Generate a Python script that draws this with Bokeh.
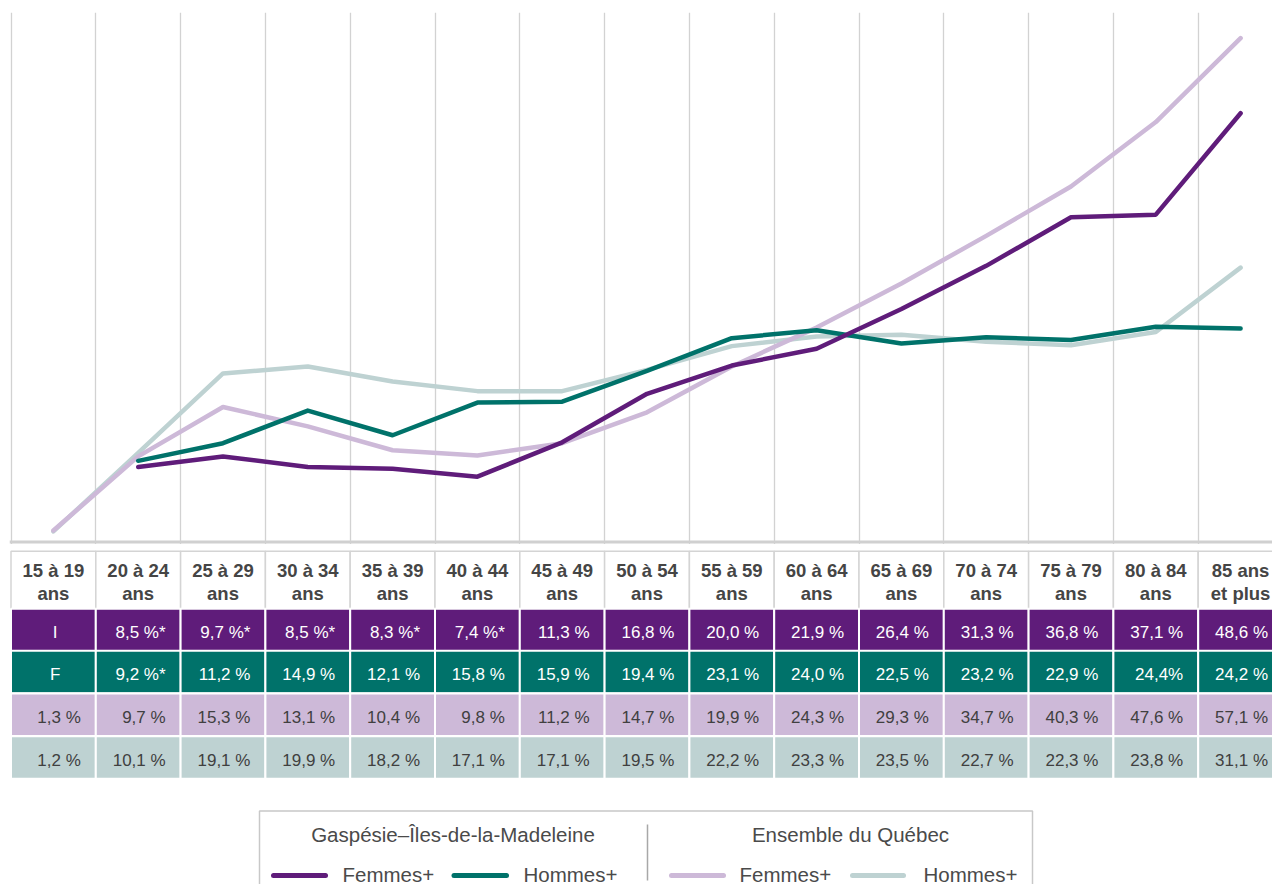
from bokeh.plotting import figure
from bokeh.layouts import column
from bokeh.models import Range1d, FixedTicker, Span, Grid
from bokeh.embed import file_html
from bokeh.resources import INLINE
from bokeh.core.properties import value

# ---------------- data ----------------
categories = ["15 à 19 ans", "20 à 24 ans", "25 à 29 ans", "30 à 34 ans", "35 à 39 ans",
              "40 à 44 ans", "45 à 49 ans", "50 à 54 ans", "55 à 59 ans", "60 à 64 ans",
              "65 à 69 ans", "70 à 74 ans", "75 à 79 ans", "80 à 84 ans", "85 ans et plus"]
header_line1 = ["15 à 19", "20 à 24", "25 à 29", "30 à 34", "35 à 39", "40 à 44", "45 à 49",
                "50 à 54", "55 à 59", "60 à 64", "65 à 69", "70 à 74", "75 à 79", "80 à 84", "85 ans"]
header_line2 = ["ans"] * 14 + ["et plus"]

gaspesie_femmes = [None, 8.5, 9.7, 8.5, 8.3, 7.4, 11.3, 16.8, 20.0, 21.9, 26.4, 31.3, 36.8, 37.1, 48.6]
gaspesie_hommes = [None, 9.2, 11.2, 14.9, 12.1, 15.8, 15.9, 19.4, 23.1, 24.0, 22.5, 23.2, 22.9, 24.4, 24.2]
quebec_femmes = [1.3, 9.7, 15.3, 13.1, 10.4, 9.8, 11.2, 14.7, 19.9, 24.3, 29.3, 34.7, 40.3, 47.6, 57.1]
quebec_hommes = [1.2, 10.1, 19.1, 19.9, 18.2, 17.1, 17.1, 19.5, 22.2, 23.3, 23.5, 22.7, 22.3, 23.8, 31.1]

label_gaspesie_femmes = ["I", "8,5 %*", "9,7 %*", "8,5 %*", "8,3 %*", "7,4 %*", "11,3 %", "16,8 %",
                         "20,0 %", "21,9 %", "26,4 %", "31,3 %", "36,8 %", "37,1 %", "48,6 %"]
label_gaspesie_hommes = ["F", "9,2 %*", "11,2 %", "14,9 %", "12,1 %", "15,8 %", "15,9 %", "19,4 %",
                         "23,1 %", "24,0 %", "22,5 %", "23,2 %", "22,9 %", "24,4%", "24,2 %"]
label_quebec_femmes = ["1,3 %", "9,7 %", "15,3 %", "13,1 %", "10,4 %", "9,8 %", "11,2 %", "14,7 %",
                       "19,9 %", "24,3 %", "29,3 %", "34,7 %", "40,3 %", "47,6 %", "57,1 %"]
label_quebec_hommes = ["1,2 %", "10,1 %", "19,1 %", "19,9 %", "18,2 %", "17,1 %", "17,1 %", "19,5 %",
                       "22,2 %", "23,3 %", "23,5 %", "22,7 %", "22,3 %", "23,8 %", "31,1 %"]

legend_groups = ["Gaspésie–Îles-de-la-Madeleine", "Ensemble du Québec"]
legend_labels = ["Femmes+", "Hommes+", "Femmes+", "Hommes+"]

# ---------------- styles ----------------
C_PURPLE = "#5f1c7a"
C_TEAL = "#00726a"
C_LILAC = "#cdb9d8"
C_GREY = "#bed2d2"
TXT = "#404040"
SANS = value("Liberation Sans")
W = 1272
LEFT = 9

COL_PX = 84.8
x0 = -1.5 / COL_PX
x_range = Range1d(x0, x0 + (W - LEFT) / COL_PX)

# ---------------- line chart ----------------
PX_PER = 8.823
p = figure(width=W, height=544, x_range=x_range,
           y_range=Range1d(-2.5 / PX_PER, (541.5 - 12) / PX_PER),
           x_axis_type=None, y_axis_type=None, toolbar_location=None,
           output_backend="svg", min_border=0, min_border_left=LEFT, min_border_top=12)
p.outline_line_color = None
p.add_layout(Grid(dimension=0, ticker=FixedTicker(ticks=list(range(15))),
                  grid_line_color="#d2d2d2", grid_line_width=1.3))
p.add_layout(Span(location=0, dimension="width", line_color="#d0d0d0", line_width=3))

xs = [i + 0.5 for i in range(len(categories))]

def series(vals):
    pts = [(x, v) for x, v in zip(xs, vals) if v is not None]
    return [a for a, _ in pts], [b for _, b in pts]

for vals, col in [(quebec_hommes, C_GREY), (quebec_femmes, C_LILAC),
                  (gaspesie_hommes, C_TEAL), (gaspesie_femmes, C_PURPLE)]:
    sx, sy = series(vals)
    p.line(sx, sy, line_color=col, line_width=4.5, line_cap="round", line_join="round")

# ---------------- table ----------------
t = figure(width=W, height=236, x_range=x_range, y_range=Range1d(236, 0),
           x_axis_type=None, y_axis_type=None, toolbar_location=None,
           output_backend="svg", min_border=0, min_border_left=LEFT)
t.outline_line_color = None

n = len(categories)
lefts = [float(i) for i in range(n)]
rights = [i + 1.0 for i in range(n)]

hdr_top, hdr_bot = 6.7, 64.3
t.quad(left=lefts, right=rights, top=[hdr_top] * n, bottom=[hdr_bot] * n,
       fill_color="white", line_color="#d4d4d4", line_width=1.5)
t.text(x=xs, y=[26.3] * n, text=header_line1, text_align="center", text_baseline="alphabetic",
       text_font=SANS, text_font_style="bold", text_font_size="18.5px", text_color="#454545")
t.text(x=xs, y=[48.8] * n, text=header_line2, text_align="center", text_baseline="alphabetic",
       text_font=SANS, text_font_style="bold", text_font_size="18.5px", text_color="#454545")

row_tops = [64.3, 106.3, 149.0, 191.7]
row_h = 42.5
rows = [(label_gaspesie_femmes, C_PURPLE, "white"),
        (label_gaspesie_hommes, C_TEAL, "white"),
        (label_quebec_femmes, C_LILAC, TXT),
        (label_quebec_hommes, C_GREY, TXT)]
for (labels, fill, tc), top in zip(rows, row_tops):
    t.quad(left=lefts, right=rights, top=[top] * n, bottom=[top + row_h] * n,
           fill_color=fill, line_color="white", line_width=2)
    num_x, num_t, ctr_x, ctr_t = [], [], [], []
    for i, lab in enumerate(labels):
        if "%" in lab:
            num_x.append(i + 1 - 15 / COL_PX)
            num_t.append(lab)
        else:
            ctr_x.append(i + 0.52)
            ctr_t.append(lab)
    t.text(x=num_x, y=[top + 24] * len(num_x), text=num_t, text_align="right",
           text_baseline="alphabetic", text_font=SANS, text_font_size="17px", text_color=tc)
    if ctr_x:
        t.text(x=ctr_x, y=[top + 24] * len(ctr_x), text=ctr_t, text_align="center",
               text_baseline="alphabetic", text_font=SANS, text_font_size="17px", text_color=tc)

# ---------------- legend ----------------
lg = figure(width=W, height=104, x_range=Range1d(LEFT, W), y_range=Range1d(104, 0),
            x_axis_type=None, y_axis_type=None, toolbar_location=None,
            output_backend="svg", min_border=0, min_border_left=LEFT)
lg.outline_line_color = None
lg.quad(left=[259], right=[1032], top=[30.5], bottom=[140], fill_color=None,
        line_color="#c8c8c8", line_width=1.5)
lg.segment(x0=[647], y0=[44], x1=[647], y1=[100], line_color="#a8a8a8", line_width=1.5)
lg.text(x=[452.5, 850], y=[53.5, 53.5], text=legend_groups, text_align="center",
        text_baseline="alphabetic", text_font=SANS, text_font_size="20.5px", text_color="#4a4a4a")
sample_x0 = [273, 453.5, 671, 852]
sample_x1 = [325, 506, 723, 903]
lg.segment(x0=sample_x0, y0=[95] * 4, x1=sample_x1, y1=[95] * 4,
           line_color=[C_PURPLE, C_TEAL, C_LILAC, C_GREY], line_width=5, line_cap="round")
lg.text(x=[342, 523, 739, 923], y=[93.5] * 4, text=legend_labels, text_align="left",
        text_baseline="alphabetic", text_font=SANS, text_font_size="20.5px", text_color="#4a4a4a")

layout = column(p, t, lg, spacing=0)
with open("out.html", "w") as f:
    f.write(file_html(layout, INLINE))
